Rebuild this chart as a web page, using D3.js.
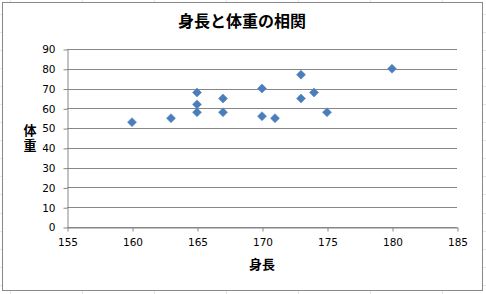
<!DOCTYPE html>
<html>
<head>
<meta charset="utf-8">
<script src="https://cdn.jsdelivr.net/npm/d3@7"></script>
<style>
  body { margin: 0; background: #fff; }
  svg { display: block; }
  .tick text { font-family: "DejaVu Sans", sans-serif; font-size: 10.5px; fill: #000; }
  .jp { font-family: "Noto Sans CJK JP", sans-serif; font-weight: bold; fill: #000; }
</style>
</head>
<body>
<svg id="chart" width="486" height="294"></svg>
<script>
  // Data
  var heights = [160, 163, 165, 165, 165, 167, 167, 170, 170, 171, 173, 173, 174, 175, 180];
  var weights = [53, 55, 68, 62, 58, 65, 58, 70, 56, 55, 77, 65, 68, 58, 80];

  var X_TICKS = [155, 160, 165, 170, 175, 180, 185];
  var Y_TICKS = [0, 10, 20, 30, 40, 50, 60, 70, 80, 90];

  var TITLE = "身長と体重の相関";
  var X_TITLE = "身長";
  var Y_TITLE = "体重";

  var W = 486, H = 294;
  var GRID = "#878787";
  var MARKER = "#4a7ebb";

  // plot frame
  var LEFT = 67, RIGHT = 457, TOP = 49, BOTTOM = 227;

  var svg = d3.select("#chart");

  // faint spreadsheet cells behind the chart
  var sheet = svg.append("g").attr("stroke", "#e4e4e4").attr("stroke-width", 1);
  for (var sx = 10.5; sx < W; sx += 72) {
    sheet.append("line").attr("x1", sx).attr("x2", sx).attr("y1", 0).attr("y2", H);
  }
  for (var sy = 13.5; sy < H; sy += 18.1) {
    var yy = Math.round(sy) + 0.5;
    sheet.append("line").attr("x1", 0).attr("x2", W).attr("y1", yy).attr("y2", yy);
  }

  // chart area box
  svg.append("rect")
    .attr("x", 2.5).attr("y", 2.5)
    .attr("width", 480).attr("height", 288)
    .attr("fill", "#fff")
    .attr("stroke", "#888").attr("stroke-width", 1);

  var x = d3.scaleLinear().domain([155, 185]).range([LEFT, RIGHT]);
  var y = d3.scaleLinear().domain([0, 90]).range([BOTTOM, TOP]);

  // horizontal gridlines
  svg.append("g")
    .selectAll("line")
    .data(Y_TICKS)
    .enter().append("line")
      .attr("x1", LEFT).attr("x2", RIGHT)
      .attr("y1", d => Math.round(y(d)) + 0.5)
      .attr("y2", d => Math.round(y(d)) + 0.5)
      .attr("stroke", GRID);

  // y axis
  var yAxis = svg.append("g")
    .attr("transform", "translate(" + (LEFT + 0.5) + ",0.5)")
    .call(d3.axisLeft(y).tickValues(Y_TICKS).tickSize(4).tickPadding(8).tickSizeOuter(0));
  yAxis.select(".domain").attr("stroke", GRID);
  yAxis.selectAll(".tick line").attr("stroke", GRID);

  // x axis
  var xAxis = svg.append("g")
    .attr("transform", "translate(0.5," + (BOTTOM + 0.5) + ")")
    .call(d3.axisBottom(x).tickValues(X_TICKS).tickSize(4).tickPadding(7).tickSizeOuter(0));
  xAxis.select(".domain").attr("stroke", GRID);
  xAxis.selectAll(".tick line").attr("stroke", GRID);

  // markers
  var diamond = d3.symbol().type(d3.symbolSquare).size(40);
  svg.append("g")
    .selectAll("path")
    .data(heights.map((h, i) => [h, weights[i]]))
    .enter().append("path")
      .attr("d", diamond)
      .attr("transform", d => "translate(" + x(d[0]) + "," + y(d[1]) + ") rotate(45)")
      .attr("fill", MARKER)
      .attr("stroke", "#5b8ac4")
      .attr("stroke-width", 0.6);

  // titles
  svg.append("text")
    .attr("class", "jp")
    .attr("x", 242).attr("y", 27)
    .attr("text-anchor", "middle")
    .style("font-size", "16px")
    .text(TITLE);

  svg.append("text")
    .attr("class", "jp")
    .attr("x", (LEFT + RIGHT) / 2).attr("y", 269)
    .attr("text-anchor", "middle")
    .style("font-size", "13px")
    .text(X_TITLE);

  // stacked vertical y title, one text element
  svg.append("text")
    .attr("class", "jp")
    .attr("x", 30).attr("y", 139)
    .attr("text-anchor", "middle")
    .style("writing-mode", "vertical-rl")
    .style("letter-spacing", "2px")
    .style("font-size", "13px")
    .text(Y_TITLE);
</script>
</body>
</html>
